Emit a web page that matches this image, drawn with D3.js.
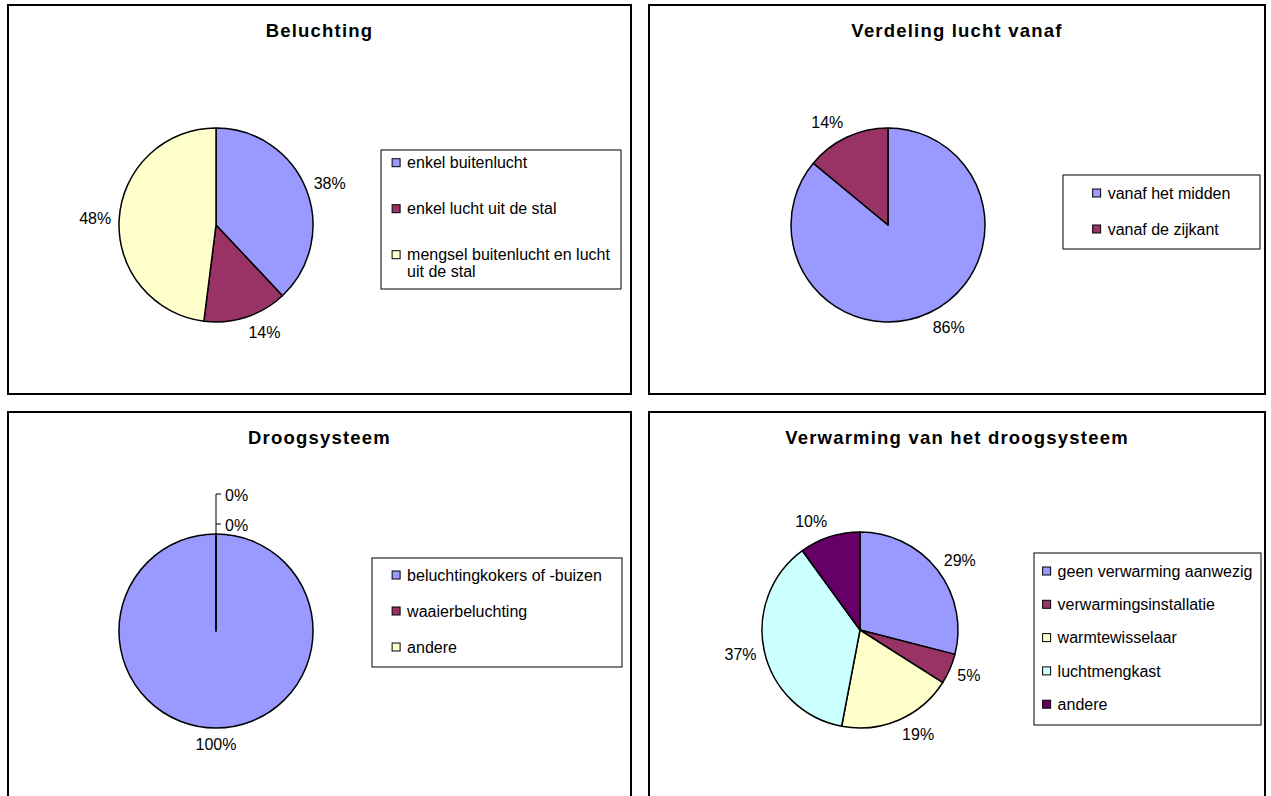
<!DOCTYPE html>
<html><head><meta charset="utf-8">
<script src="https://cdn.jsdelivr.net/npm/d3@7/dist/d3.min.js"></script>
<style>html,body{margin:0;padding:0;background:#fff;overflow:hidden}</style>
</head><body>
<svg id="c" width="1271" height="796"></svg>
<script>
// ---- data ----
const titles = ["Beluchting", "Verdeling lucht vanaf", "Droogsysteem", "Verwarming van het droogsysteem"];
const categories1 = ["enkel buitenlucht", "enkel lucht uit de stal", "mengsel buitenlucht en lucht uit de stal"];
const values1 = [38, 14, 48];
const categories2 = ["vanaf het midden", "vanaf de zijkant"];
const values2 = [86, 14];
const categories3 = ["beluchtingkokers of -buizen", "waaierbeluchting", "andere"];
const values3 = [100, 0, 0];
const categories4 = ["geen verwarming aanwezig", "verwarmingsinstallatie", "warmtewisselaar", "luchtmengkast", "andere"];
const values4 = [29, 5, 19, 37, 10];
const palette = ["#9999FF", "#993366", "#FFFFCC", "#CCFFFF", "#660066"];

// ---- layout ----
const layout = [
  {x: 8, y: 5, w: 623, h: 389, cx: 216, cy: 225, r: 97,
   lg: {x: 381, y: 150, w: 240, h: 139, first: 12.7, step: 46, wrap: 215}},
  {x: 649, y: 5, w: 616, h: 389, cx: 888, cy: 225, r: 97,
   lg: {x: 1063, y: 175, w: 197, h: 74, first: 18, step: 36, wrap: 1000}},
  {x: 8, y: 412, w: 623, h: 420, cx: 216, cy: 631, r: 97,
   lg: {x: 372, y: 558, w: 250, h: 109, first: 17, step: 36, wrap: 1000}},
  {x: 649, y: 412, w: 616, h: 420, cx: 860, cy: 630, r: 98,
   lg: {x: 1034, y: 553, w: 227, h: 172, first: 18, step: 33.3, wrap: 1000}}
];
const charts = [
  {title: titles[0], cats: categories1, vals: values1},
  {title: titles[1], cats: categories2, vals: values2},
  {title: titles[2], cats: categories3, vals: values3},
  {title: titles[3], cats: categories4, vals: values4}
];

const FONT = "Arial, 'Liberation Sans', Helvetica, sans-serif";
const svg = d3.select("#c");
const color = d3.scaleOrdinal().domain(d3.range(palette.length)).range(palette);

function measure(txt, size, weight) {
  const t = svg.append("text").attr("font-family", FONT).attr("font-size", size)
    .attr("font-weight", weight || "normal").text(txt);
  const w = t.node().getComputedTextLength();
  t.remove();
  return w;
}
function wrapText(txt, maxW) {
  const words = txt.split(" ");
  const lines = [];
  let cur = "";
  words.forEach(w => {
    const test = cur ? cur + " " + w : w;
    if (cur && measure(test, 16) > maxW) { lines.push(cur); cur = w; }
    else cur = test;
  });
  if (cur) lines.push(cur);
  return lines;
}

charts.forEach((ch, i) => {
  const L = layout[i];
  const g = svg.append("g");
  // panel frame
  g.append("rect").attr("x", L.x).attr("y", L.y).attr("width", L.w).attr("height", L.h)
    .attr("fill", "#fff").attr("stroke", "#000").attr("stroke-width", 2);
  // title
  g.append("text").attr("x", L.x + L.w / 2).attr("y", L.y + 32)
    .attr("text-anchor", "middle").attr("font-family", FONT).attr("font-size", 18.5)
    .attr("font-weight", "bold").attr("letter-spacing", 1.2).text(ch.title);

  // pie
  const pie = d3.pie().sort(null).value(d => d);
  const arcs = pie(ch.vals).map((a, k) => Object.assign(a, {k}));
  const arc = d3.arc().innerRadius(0).outerRadius(L.r);
  const pg = g.append("g").attr("transform", `translate(${L.cx},${L.cy})`);
  const ordered = arcs.filter(a => a.value > 0).concat(arcs.filter(a => a.value === 0));
  pg.selectAll("path").data(ordered).join("path")
    .attr("d", arc).attr("fill", d => color(d.k))
    .attr("stroke", "#000").attr("stroke-width", 1.5).attr("stroke-linejoin", "round");

  // data labels
  const gap = 8, halfH = 8;
  const zeroLabels = [];
  arcs.forEach(a => {
    const txt = a.value + "%";
    if (a.value === 0) { zeroLabels.push(txt); return; }
    const th = (a.startAngle + a.endAngle) / 2;
    const ux = Math.sin(th), uy = -Math.cos(th);
    const w = measure(txt, 16);
    const sg = Math.abs(ux) < 0.02 ? 0 : Math.sign(ux);
    const lx = L.cx + (L.r + gap) * ux + sg * w / 2;
    const ly = L.cy + (L.r + gap) * uy + uy * halfH;
    g.append("text").attr("x", lx).attr("y", ly).attr("dy", "0.35em")
      .attr("text-anchor", "middle").attr("font-family", FONT).attr("font-size", 16)
      .text(txt);
  });
  if (zeroLabels.length) {
    const top = L.cy - L.r;
    const ys = zeroLabels.map((t, j) => top - 10 - j * 30);
    let d = `M${L.cx},${top}V${ys[ys.length - 1]}`;
    ys.forEach(y => { d += `M${L.cx},${y}H${L.cx + 5}`; });
    g.append("path").attr("d", d).attr("fill", "none").attr("stroke", "#000").attr("stroke-width", 1);
    zeroLabels.forEach((t, j) => {
      g.append("text").attr("x", L.cx + 9).attr("y", ys[j] + 1).attr("dy", "0.35em")
        .attr("font-family", FONT).attr("font-size", 16).text(t);
    });
  }

  // legend
  const lg = L.lg;
  g.append("rect").attr("x", lg.x).attr("y", lg.y).attr("width", lg.w).attr("height", lg.h)
    .attr("fill", "#fff").attr("stroke", "#000").attr("stroke-width", 1);
  const items = ch.cats.map(c => wrapText(c, lg.wrap));
  const textW = d3.max(items, ls => d3.max(ls, l => measure(l, 16)));
  const sq = 8, sqGap = 7;
  const blockW = sq + sqGap + textW;
  const sx = lg.x + (lg.w - blockW) / 2;
  items.forEach((lines, k) => {
    const cy = lg.y + lg.first + k * lg.step;
    g.append("rect").attr("x", sx).attr("y", cy - sq / 2).attr("width", sq).attr("height", sq)
      .attr("fill", color(k)).attr("stroke", "#000").attr("stroke-width", 1);
    lines.forEach((ln, m) => {
      g.append("text").attr("x", sx + sq + sqGap).attr("y", cy + m * 16.5).attr("dy", "0.35em")
        .attr("font-family", FONT).attr("font-size", 16).text(ln);
    });
  });
});
</script>
</body></html>
